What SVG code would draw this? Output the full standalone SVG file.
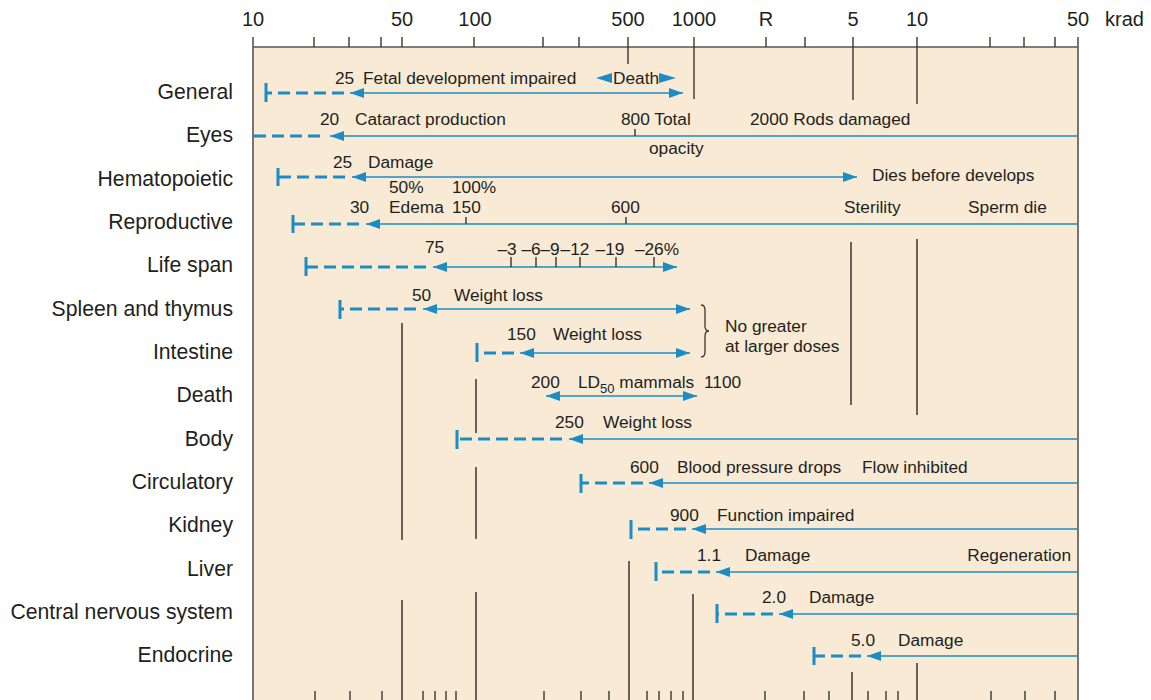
<svg xmlns="http://www.w3.org/2000/svg" width="1151" height="700" viewBox="0 0 1151 700">
<style>
text{font-family:"Liberation Sans",Arial,Helvetica,sans-serif;fill:#231f20}
.ax{font-size:20px;text-anchor:middle}
.rl{font-size:21.2px;text-anchor:end}
.t{font-size:17.3px}
.tm{font-size:17.3px;text-anchor:middle}
.frame{stroke:#5a5553;stroke-width:1.6;fill:none}
.vl{stroke:#3a3533;stroke-width:1.5;fill:none}
.tk{stroke:#3a3533;stroke-width:1.4;fill:none}
.sol{stroke:#1b8dc4;stroke-width:1.5;fill:none}
.dsh{stroke:#1b8dc4;stroke-width:3;fill:none;stroke-dasharray:12 6}
.bar{stroke:#1b8dc4;stroke-width:3;fill:none}
.ah{fill:#1b8dc4}
</style>
<defs>
<marker id="arr" markerUnits="userSpaceOnUse" markerWidth="14" markerHeight="10" viewBox="0 0 14 10" refX="14" refY="5" orient="auto-start-reverse">
<path d="M0,0 L14,5 L0,10 Z" class="ah"/>
</marker>
</defs>
<rect x="0" y="0" width="1151" height="700" fill="#ffffff"/>
<rect x="253" y="47" width="825" height="653" fill="#f9ead5"/>
<g id="axis">
<path class="frame" d="M253,37 V700 M1078,37 V700 M253,47 H1078"/>
<path class="tk" d="M314,37V47 M349,37V47 M381,37V47 M402,37V47 M474,37V47 M543,37V47 M579,37V47 M628,37V64 M694,37V99 M766,37V47 M805,37V47 M853,37V100 M917,37V104 M990,37V47 M1024,37V47 M1055,37V47"/>
<path class="tk" d="M315,691V700 M350,691V700 M382,691V700 M423,691V700 M435,691V700 M446,691V700 M456,691V700 M544,691V700 M581,691V700 M609,691V700 M647,691V700 M659,691V700 M671,691V700 M683,691V700 M765,691V700 M804,691V700 M829,691V700 M868,691V700 M886,691V700 M898,691V700 M991,691V700 M1025,691V700 M1055,691V700"/>
<text class="ax" x="253" y="26">10</text>
<text class="ax" x="402" y="26">50</text>
<text class="ax" x="475" y="26">100</text>
<text class="ax" x="628" y="26">500</text>
<text class="ax" x="694" y="26">1000</text>
<text class="ax" x="766" y="26">R</text>
<text class="ax" x="853" y="26">5</text>
<text class="ax" x="917" y="26">10</text>
<text class="ax" x="1078" y="26">50</text>
<text x="1105" y="26" style="font-size:20px">krad</text>
</g>
<g id="gridlines">
<path class="vl" d="M851,242V405 M917,239V415 M402,323V540 M476,379V433 M476,467V539 M629,561V700 M402,600V700 M476,592V700 M693,594V700 M852,672V700 M917,663V700"/>
</g>
<g id="row-labels">
<text class="rl" x="233" y="99">General</text>
<text class="rl" x="233" y="142">Eyes</text>
<text class="rl" x="233" y="186">Hematopoietic</text>
<text class="rl" x="233" y="229">Reproductive</text>
<text class="rl" x="233" y="272">Life span</text>
<text class="rl" x="233" y="316">Spleen and thymus</text>
<text class="rl" x="233" y="359">Intestine</text>
<text class="rl" x="233" y="402">Death</text>
<text class="rl" x="233" y="446">Body</text>
<text class="rl" x="233" y="489">Circulatory</text>
<text class="rl" x="233" y="532">Kidney</text>
<text class="rl" x="233" y="576">Liver</text>
<text class="rl" x="233" y="619">Central nervous system</text>
<text class="rl" x="233" y="662">Endocrine</text>
</g>
<g id="connectors">
<!-- General -->
<path class="bar" d="M266,83V102"/>
<path class="dsh" d="M344,93H266"/>
<path class="sol" d="M350,93H683" marker-start="url(#arr)" marker-end="url(#arr)"/>
<path class="ah" d="M596,78 L612,73 L612,83 Z M676,78 L659,73 L659,83 Z"/>
<!-- Eyes -->
<path class="dsh" d="M254,136H324"/>
<path class="sol" d="M330,136H1078" marker-start="url(#arr)"/>
<path class="tk" d="M635,129V136"/>
<!-- Hematopoietic -->
<path class="bar" d="M278,168V186"/>
<path class="dsh" d="M345,177H278"/>
<path class="sol" d="M352,177H857" marker-start="url(#arr)" marker-end="url(#arr)"/>
<!-- Reproductive -->
<path class="bar" d="M293,215V233"/>
<path class="dsh" d="M359,224H293"/>
<path class="sol" d="M366,224H1078" marker-start="url(#arr)"/>
<path class="tk" d="M466,217V224 M626,217V224"/>
<!-- Life span -->
<path class="bar" d="M306,257V276"/>
<path class="dsh" d="M426,267H306"/>
<path class="sol" d="M433,267H677" marker-start="url(#arr)" marker-end="url(#arr)"/>
<path class="tk" d="M511,257V267 M536,257V267 M556,257V267 M580,257V267 M616,257V267 M654,257V267"/>
<!-- Spleen -->
<path class="bar" d="M340,300V319"/>
<path class="dsh" d="M416,309H340"/>
<path class="sol" d="M423,309H690" marker-start="url(#arr)" marker-end="url(#arr)"/>
<!-- Intestine -->
<path class="bar" d="M477,343V362"/>
<path class="dsh" d="M514,353H477"/>
<path class="sol" d="M520,353H690" marker-start="url(#arr)" marker-end="url(#arr)"/>
<path d="M701,305 Q705,305 705,310 L705,326 Q705,331 709,331 Q705,331 705,336 L705,352 Q705,357 701,357" stroke="#3a3533" stroke-width="1.3" fill="none"/>
<!-- Death -->
<path class="sol" d="M546,396H697" marker-start="url(#arr)" marker-end="url(#arr)"/>
<!-- Body -->
<path class="bar" d="M457,430V449"/>
<path class="dsh" d="M562,439H457"/>
<path class="sol" d="M569,439H1078" marker-start="url(#arr)"/>
<!-- Circulatory -->
<path class="bar" d="M581,474V493"/>
<path class="dsh" d="M643,483H581"/>
<path class="sol" d="M649,483H1078" marker-start="url(#arr)"/>
<!-- Kidney -->
<path class="bar" d="M631,520V539"/>
<path class="dsh" d="M686,529H631"/>
<path class="sol" d="M692,529H1078" marker-start="url(#arr)"/>
<!-- Liver -->
<path class="bar" d="M656,562V581"/>
<path class="dsh" d="M710,572H656"/>
<path class="sol" d="M716,572H1078" marker-start="url(#arr)"/>
<!-- CNS -->
<path class="bar" d="M717,604V623"/>
<path class="dsh" d="M773,614H717"/>
<path class="sol" d="M779,614H1078" marker-start="url(#arr)"/>
<!-- Endocrine -->
<path class="bar" d="M814,647V665"/>
<path class="dsh" d="M861,656H814"/>
<path class="sol" d="M867,656H1078" marker-start="url(#arr)"/>
</g>
<g id="annotations">
<text class="t" x="335" y="84">25</text>
<text class="t" x="363" y="84">Fetal development impaired</text>
<text class="t" x="613" y="84">Death</text>
<text class="t" x="320" y="125">20</text>
<text class="t" x="355" y="125">Cataract production</text>
<text class="t" x="621" y="125">800 Total</text>
<text class="t" x="649" y="154">opacity</text>
<text class="t" x="750" y="125">2000 Rods damaged</text>
<text class="t" x="333" y="168">25</text>
<text class="t" x="368" y="168">Damage</text>
<text class="t" x="872" y="181">Dies before develops</text>
<text class="t" x="389" y="193">50%</text>
<text class="t" x="452" y="193">100%</text>
<text class="t" x="350" y="213">30</text>
<text class="t" x="389" y="213">Edema</text>
<text class="t" x="452" y="213">150</text>
<text class="t" x="611" y="213">600</text>
<text class="t" x="844" y="213">Sterility</text>
<text class="t" x="968" y="213">Sperm die</text>
<text class="t" x="425" y="253">75</text>
<text class="tm" x="507" y="255">–3</text>
<text class="tm" x="531" y="255">–6</text>
<text class="tm" x="550" y="255">–9</text>
<text class="tm" x="575" y="255">–12</text>
<text class="tm" x="610" y="255">–19</text>
<text class="tm" x="657" y="255">–26%</text>
<text class="t" x="412" y="301">50</text>
<text class="t" x="454" y="301">Weight loss</text>
<text class="t" x="507" y="340">150</text>
<text class="t" x="553" y="340">Weight loss</text>
<text class="t" x="725" y="332">No greater</text>
<text class="t" x="725" y="352">at larger doses</text>
<text class="t" x="531" y="388">200</text>
<text class="t" x="578" y="388">LD<tspan dy="5" style="font-size:13px">50</tspan><tspan dy="-5"> mammals</tspan></text>
<text class="t" x="704" y="388">1100</text>
<text class="t" x="555" y="428">250</text>
<text class="t" x="603" y="428">Weight loss</text>
<text class="t" x="630" y="473">600</text>
<text class="t" x="677" y="473">Blood pressure drops</text>
<text class="t" x="862" y="473">Flow inhibited</text>
<text class="t" x="670" y="521">900</text>
<text class="t" x="717" y="521">Function impaired</text>
<text class="t" x="697" y="561">1.1</text>
<text class="t" x="745" y="561">Damage</text>
<text class="t" x="1071" y="561" style="text-anchor:end">Regeneration</text>
<text class="t" x="762" y="603">2.0</text>
<text class="t" x="809" y="603">Damage</text>
<text class="t" x="851" y="646">5.0</text>
<text class="t" x="898" y="646">Damage</text>
</g>
</svg>
